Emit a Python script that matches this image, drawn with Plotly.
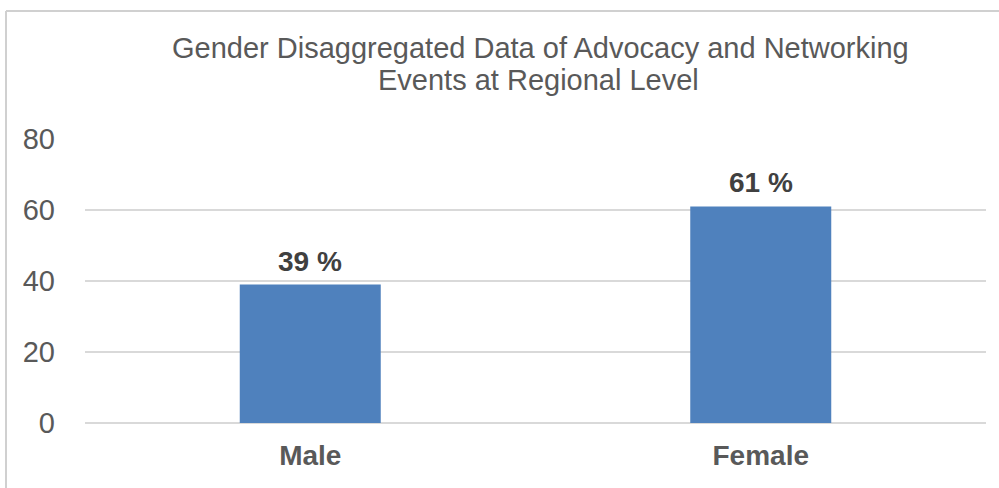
import plotly.graph_objects as go

categories = ["Male", "Female"]
values = [39, 61]
labels = ["39 %", "61 %"]
y_ticks = [0, 20, 40, 60, 80]
title_lines = ["Gender Disaggregated Data of Advocacy and Networking",
               "Events at Regional Level"]

L, R, T, B = 85, 13, 139, 65
W, H = 999, 488
pw, ph = W - L - R, H - T - B

def px_x(x):
    return (x - L) / pw

def px_y(y):
    return (H - B - y) / ph

FONT = "Liberation Sans, Arial"

fig = go.Figure(go.Bar(
    x=categories, y=values,
    marker=dict(color="#4F81BD", line=dict(width=0)),
    hoverinfo="skip",
))

annotations = [
    dict(text=t, x=c, y=v, xref="x", yref="y", xanchor="center", yanchor="bottom",
         yshift=6, showarrow=False,
         font=dict(family=FONT, size=28, color="#404040", weight="bold"))
    for c, v, t in zip(categories, values, labels)
]
annotations += [
    dict(text=title_lines[0], xref="paper", yref="paper",
         x=px_x(540), y=px_y(48), xanchor="center", yanchor="middle",
         showarrow=False, font=dict(family=FONT, size=29, color="#595959")),
    dict(text=title_lines[1], xref="paper", yref="paper",
         x=px_x(538), y=px_y(80), xanchor="center", yanchor="middle",
         showarrow=False, font=dict(family=FONT, size=29, color="#595959")),
]

fig.update_layout(
    width=W, height=H,
    margin=dict(l=L, r=R, t=T, b=B),
    paper_bgcolor="white", plot_bgcolor="white",
    bargap=0.687,
    showlegend=False,
    xaxis=dict(
        showgrid=False, showline=False, ticks="", ticklabelstandoff=13,
        tickfont=dict(family=FONT, size=28, color="#595959", weight="bold"),
    ),
    yaxis=dict(
        range=[0, 80], tickvals=y_ticks, showgrid=True, gridcolor="#d9d9d9", gridwidth=2,
        zeroline=True, zerolinecolor="#d9d9d9", zerolinewidth=2,
        showline=False, ticks="", ticklabelstandoff=29,
        tickfont=dict(family=FONT, size=29, color="#595959"),
    ),
    annotations=annotations,
    shapes=[
        dict(type="line", xref="paper", yref="paper",
             x0=px_x(6), x1=px_x(6), y0=px_y(11), y1=px_y(490),
             line=dict(color="#d0d0d0", width=2)),
        dict(type="line", xref="paper", yref="paper",
             x0=px_x(6), x1=px_x(1000), y0=px_y(11), y1=px_y(11),
             line=dict(color="#d0d0d0", width=2)),
    ],
)

fig.write_html("out.html", config={"displayModeBar": False},
               post_script="document.body.style.margin='0px';")
